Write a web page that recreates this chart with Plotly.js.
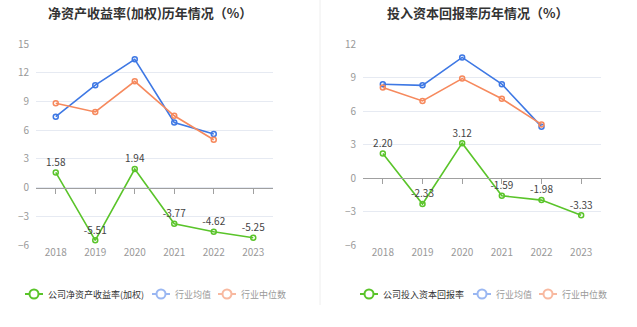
<!DOCTYPE html>
<html><head><meta charset="utf-8">
<script src="https://cdn.plot.ly/plotly-3.0.1.min.js"></script>
<style>body{margin:0;padding:0;background:#fff}#c{width:637px;height:327px}</style>
</head><body><div id="c"></div>
<script>
const years = ['2018','2019','2020','2021','2022','2023'];
// Left chart: 净资产收益率(加权)
const roeCompany = [1.58, -5.51, 1.94, -3.77, -4.62, -5.25];
const roeAvg = [7.4, 10.7, 13.4, 6.8, 5.6, null];
const roeMedian = [8.8, 7.9, 11.1, 7.5, 5.0, null];
// Right chart: 投入资本回报率
const roicCompany = [2.20, -2.33, 3.12, -1.59, -1.98, -3.33];
const roicAvg = [8.4, 8.3, 10.8, 8.4, 4.6, null];
const roicMedian = [8.1, 6.9, 8.9, 7.1, 4.8, null];
const leftTicks = [-6, -3, 0, 3, 6, 9, 12, 15];
const rightTicks = [-6, -3, 0, 3, 6, 9, 12];
const leftLegendNames = ['公司净资产收益率(加权)', '行业均值', '行业中位数'];
const rightLegendNames = ['公司投入资本回报率', '行业均值', '行业中位数'];

const W = 637, H = 327;
const green = '#5ac42a', blue = '#3e78e4', orange = '#f6895d';
const legendColors = [green, '#9ab7f2', '#f8b9a0'];
const legendTextColors = ['#333', '#999', '#999'];
const font = '"Noto Sans CJK SC", "Noto Sans", sans-serif';
const yDom = [(H-245)/H, (H-44)/H];
const lRange = [-6, 15], rRange = [-6, 12];
function zeroPos(r){ return yDom[0] + (0 - r[0])/(r[1]-r[0])*(yDom[1]-yDom[0]); }

function line(x, y, color, xa, ya, extra){
  return Object.assign({
    x: x, y: y, xaxis: xa, yaxis: ya, type: 'scatter', mode: 'lines+markers',
    line: {color: color, width: 1.6},
    marker: {symbol: 'circle-open', size: 5, color: color, line: {width: 1.5, color: color}},
    hoverinfo: 'skip', showlegend: false, cliponaxis: false
  }, extra || {});
}
const fmt = v => v.toFixed(2);
const labelStyle = {size: 10, color: '#444', family: font};

const traces = [
  line(years, roeAvg, blue, 'x', 'y'),
  line(years, roeMedian, orange, 'x', 'y'),
  line(years, roeCompany, green, 'x', 'y', {mode: 'lines+markers+text', text: roeCompany.map(fmt), textposition: 'top center', textfont: labelStyle}),
  line(years, roicAvg, blue, 'x2', 'y2'),
  line(years, roicMedian, orange, 'x2', 'y2'),
  line(years, roicCompany, green, 'x2', 'y2', {mode: 'lines+markers+text', text: roicCompany.map(fmt), textposition: 'top center', textfont: labelStyle})
];

const tickFont = {size: 10, color: '#999', family: font};
function xAxis(dom, anchor){
  return {domain: dom, anchor: anchor, type: 'category', range: [-0.5, 5.5],
    showgrid: false, showline: false, zeroline: false, ticks: '', tickfont: tickFont, fixedrange: true};
}
function yAxis(range, ticks, anchor){
  return {domain: yDom, anchor: anchor, range: range, tickvals: ticks, showgrid: true,
    gridcolor: '#e6eaf2', gridwidth: 1, zeroline: false, showline: false, ticks: '',
    tickfont: tickFont, ticklabelstandoff: 6, fixedrange: true};
}
function zeroAxis(dom, over, pos){
  return {domain: dom, overlaying: over, anchor: 'free', position: pos, type: 'category',
    range: [-0.5, 5.5], showline: true, linecolor: '#a0a0a0', linewidth: 1,
    ticks: 'outside', ticklen: 5, tickcolor: '#a0a0a0', showticklabels: false,
    showgrid: false, zeroline: false, fixedrange: true};
}
const lDom = [36/W, 273/W], rDom = [363/W, 601/W];

// manual legends (positions in pixels)
const legendY = (H-294)/H;
const shapes = [
  {type: 'line', xref: 'paper', yref: 'paper', x0: 320/W, x1: 320/W, y0: (H-305)/H, y1: 1,
   line: {color: '#eeeeee', width: 1}}
];
const annotations = [
  {text: '<b>净资产收益率(加权)历年情况（%）</b>', xref: 'paper', yref: 'paper', x: 150/W, y: (H-12)/H,
   xanchor: 'center', yanchor: 'middle', showarrow: false, font: {size: 13, color: '#333', family: font}},
  {text: '<b>投入资本回报率历年情况（%）</b>', xref: 'paper', yref: 'paper', x: 478/W, y: (H-12)/H,
   xanchor: 'center', yanchor: 'middle', showarrow: false, font: {size: 13, color: '#333', family: font}}
];
function addLegend(names, starts){
  names.forEach((n, i) => {
    const sx = starts[i], c = legendColors[i];
    shapes.push({type: 'line', xref: 'paper', yref: 'paper', x0: sx/W, x1: (sx+18)/W, y0: legendY, y1: legendY,
      line: {color: c, width: 2}});
    shapes.push({type: 'circle', xref: 'paper', yref: 'paper', xsizemode: 'pixel', ysizemode: 'pixel',
      xanchor: (sx+9)/W, yanchor: legendY, x0: -4.5, x1: 4.5, y0: -4.5, y1: 4.5,
      fillcolor: '#fff', line: {color: c, width: 2}});
    annotations.push({text: n, xref: 'paper', yref: 'paper', x: (sx+21)/W, y: legendY,
      xanchor: 'left', yanchor: 'middle', showarrow: false,
      font: {size: 9, color: legendTextColors[i], family: font}});
  });
}
addLegend(leftLegendNames, [25, 152, 218]);
addLegend(rightLegendNames, [360, 473, 539]);

const layout = {
  width: W, height: H, margin: {l: 0, r: 0, t: 0, b: 0, autoexpand: false}, autosize: false,
  paper_bgcolor: '#fff', plot_bgcolor: '#fff', showlegend: false,
  font: {family: font},
  xaxis: xAxis(lDom, 'y'),
  yaxis: yAxis(lRange, leftTicks, 'x'),
  xaxis2: xAxis(rDom, 'y2'),
  yaxis2: yAxis(rRange, rightTicks, 'x2'),
  xaxis3: zeroAxis(lDom, 'x', zeroPos(lRange)),
  xaxis4: zeroAxis(rDom, 'x2', zeroPos(rRange)),
  annotations: annotations,
  shapes: shapes
};
traces.push({x: years, y: years.map(() => null), xaxis: 'x3', yaxis: 'y', type: 'scatter', showlegend: false, hoverinfo: 'skip'});
traces.push({x: years, y: years.map(() => null), xaxis: 'x4', yaxis: 'y2', type: 'scatter', showlegend: false, hoverinfo: 'skip'});
Plotly.newPlot('c', traces, layout, {staticPlot: true, displayModeBar: false});
</script></body></html>
